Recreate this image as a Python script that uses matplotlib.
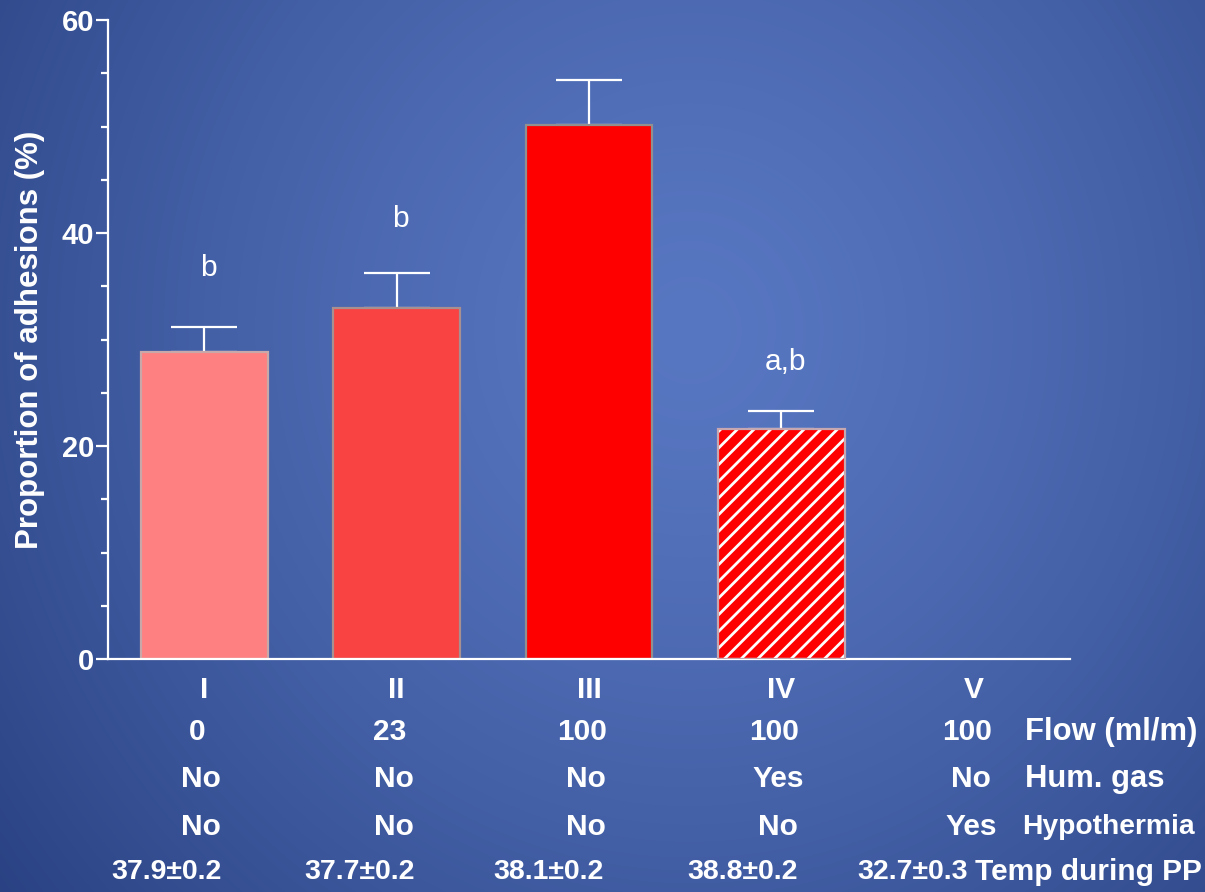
import numpy as np
import matplotlib
matplotlib.use("Agg")
import matplotlib.pyplot as plt
from matplotlib.ticker import MultipleLocator

# ---- data -------------------------------------------------------------
groups = ["I", "II", "III", "IV", "V"]
adhesions = [28.8, 33.0, 50.1, 21.6, np.nan]     # proportion of adhesions (%)
sem = [2.4, 3.2, 4.3, 1.7, np.nan]
sig_labels = ["b", "b", "", "a,b", ""]
sig_heights = [36.0, 40.6, np.nan, 27.1, np.nan]
y_ticks = [0, 20, 40, 60]

flow = ["0", "23", "100", "100", "100"]
hum_gas = ["No", "No", "No", "Yes", "No"]
hypothermia = ["No", "No", "No", "No", "Yes"]
temp_pp = ["37.9\u00b10.2", "37.7\u00b10.2", "38.1\u00b10.2", "38.8\u00b10.2", "32.7\u00b10.3"]
row_titles = ["Flow (ml/m)", "Hum. gas", "Hypothermia", "Temp during PP"]

bar_colors = ["#ff8080", "#f94343", "#ff0000", "#ff0000", "#ff0000"]
edge_colors = ["#c8a8a8", "#a89090", "#909090", "#c8a8b0", "#909090"]
hatched = [False, False, False, True, False]

# ---- figure & gradient background ------------------------------------
W, H = 1205, 892
plt.rcParams["font.family"] = ["Liberation Sans", "DejaVu Sans"]
plt.rcParams["hatch.linewidth"] = 2.0
plt.rcParams["hatch.color"] = "white"

fig = plt.figure(figsize=(W / 100, H / 100), dpi=100)

bg = fig.add_axes([0, 0, 1, 1], zorder=-10)
yy, xx = np.mgrid[0:H, 0:W]
d = np.hypot((xx - 690) / 1.0, (yy - 330) / 1.05)
t = np.clip(d / 900.0, 0, 1) ** 1.35
c_center = np.array([88, 119, 194]) / 255
c_edge = np.array([40, 64, 128]) / 255
img = c_center[None, None, :] * (1 - t[..., None]) + c_edge[None, None, :] * t[..., None]
bg.imshow(img, aspect="auto", interpolation="bilinear")
bg.set_axis_off()

# ---- main axes --------------------------------------------------------
ax_left, ax_right, ax_top, ax_bottom = 108, 1070, 20, 659
ax = fig.add_axes([ax_left / W, 1 - ax_bottom / H,
                   (ax_right - ax_left) / W, (ax_bottom - ax_top) / H])
ax.patch.set_alpha(0)

x = np.arange(len(groups))
width = 0.66
for i in range(len(groups)):
    if np.isnan(adhesions[i]):
        continue
    if hatched[i]:
        ax.bar(x[i], adhesions[i], width, color=bar_colors[i], edgecolor="white",
               hatch="//", linewidth=0, zorder=2)
        ax.bar(x[i], adhesions[i], width, fill=False, edgecolor=edge_colors[i],
               linewidth=1.6, zorder=3)
    else:
        ax.bar(x[i], adhesions[i], width, color=bar_colors[i],
               edgecolor=edge_colors[i], linewidth=1.6, zorder=2)
    ax.errorbar(x[i], adhesions[i], yerr=[[0], [sem[i]]], fmt="none",
                ecolor="white", elinewidth=1.6, capsize=23.5, capthick=1.6,
                zorder=1)
    if sig_labels[i]:
        ax.text(x[i] + 0.02, sig_heights[i], sig_labels[i], ha="center",
                va="baseline", color="white", fontsize=21.5)

ax.set_xlim(-0.5, 4.5)
ax.set_ylim(0, 60)
ax.set_yticks(y_ticks)
ax.set_yticklabels([str(v) for v in y_ticks], fontsize=21, fontweight="bold",
                   color="white")
ax.yaxis.set_minor_locator(MultipleLocator(5))
ax.set_xticks([])
for s in ["top", "right"]:
    ax.spines[s].set_visible(False)
for s in ["left", "bottom"]:
    ax.spines[s].set_color("white")
    ax.spines[s].set_linewidth(1.6)
ax.tick_params(axis="y", which="major", length=8.5, width=1.6, color="white",
               pad=1.5)
ax.tick_params(axis="y", which="minor", length=5, width=1.6, color="white")

ax.set_ylabel("Proportion of adhesions (%)", color="white", fontsize=22.5,
              fontweight="bold")
ax.yaxis.set_label_coords((45 - ax_left) / (ax_right - ax_left), 0.5)

# ---- condition table under the bars ----------------------------------
def px(xp, yp):
    return xp / W, 1 - yp / H

def data_to_px(xd):
    return ax_left + (xd + 0.5) / 5.0 * (ax_right - ax_left)

txt = dict(color="white", fontweight="bold", va="center", ha="center")

rows = [
    (groups, 690, 0, 21.5),
    (flow, 732, -7, 21.5),
    (hum_gas, 779, -3, 21.5),
    (hypothermia, 827, -3, 21.5),
]
for values, ypix, dx, fs in rows:
    for i, v in enumerate(values):
        fig.text(*px(data_to_px(x[i]) + dx, ypix), v, fontsize=fs, **txt)

temp_centers = [167, 360, 549, 743, 913]
for v, xc in zip(temp_pp, temp_centers):
    fig.text(*px(xc, 872), v, fontsize=20.5, **txt)

title_pos = [(1025, 732, 22.3), (1025, 779, 22.3), (1022, 827, 20.3), (975, 872, 21.5)]
for title, (xp, yp, fs) in zip(row_titles, title_pos):
    fig.text(*px(xp, yp), title, color="white", fontsize=fs,
             fontweight="bold", va="center", ha="left")

fig.savefig("out.png", dpi=100)
